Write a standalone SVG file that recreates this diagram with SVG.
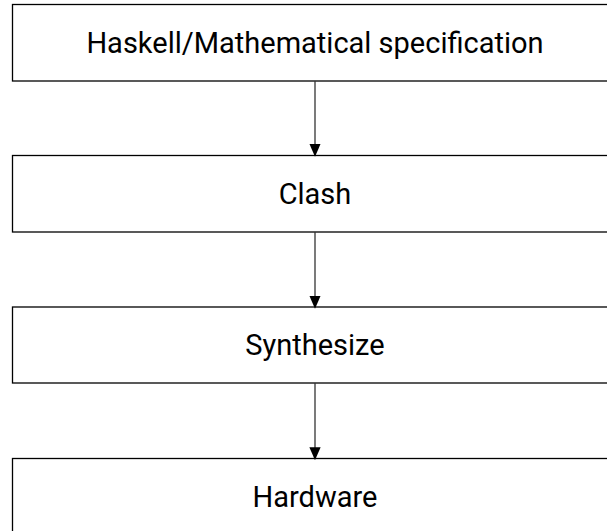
<svg xmlns="http://www.w3.org/2000/svg" width="607" height="531" viewBox="0 0 607 531">
<defs>
<style>
.box{fill:#fff;stroke:#000;stroke-width:1.3}
.lbl{font-family:Roboto,"Liberation Sans",sans-serif;font-size:29px;fill:#000;text-anchor:middle}
.edge{stroke:#333;stroke-width:1.3;fill:none}
</style>
<marker id="arr" markerWidth="13" markerHeight="15" refX="13" refY="6.5" orient="auto" markerUnits="userSpaceOnUse" viewBox="0 0 15 13">
<path d="M0,0 L15,6.5 L0,13 Z" fill="#000"/>
</marker>
</defs>
<rect width="607" height="531" fill="#fff"/>
<g id="n1"><rect class="box" x="12.5" y="4.5" width="606" height="76.5"/><text class="lbl" x="315" y="53">Haskell/Mathematical specification</text></g>
<g id="n2"><rect class="box" x="12.5" y="155.5" width="606" height="76.5"/><text class="lbl" x="315" y="204">Clash</text></g>
<g id="n3"><rect class="box" x="12.5" y="307" width="606" height="76"/><text class="lbl" x="315" y="355">Synthesize</text></g>
<g id="n4"><rect class="box" x="12.5" y="458.5" width="606" height="76.5"/><text class="lbl" x="315" y="507">Hardware</text></g>
<g id="edges">
<line class="edge" x1="315" y1="81" x2="315" y2="155" marker-end="url(#arr)"/>
<line class="edge" x1="315" y1="232" x2="315" y2="307" marker-end="url(#arr)"/>
<line class="edge" x1="315" y1="383" x2="315" y2="458.5" marker-end="url(#arr)"/>
</g>
</svg>
